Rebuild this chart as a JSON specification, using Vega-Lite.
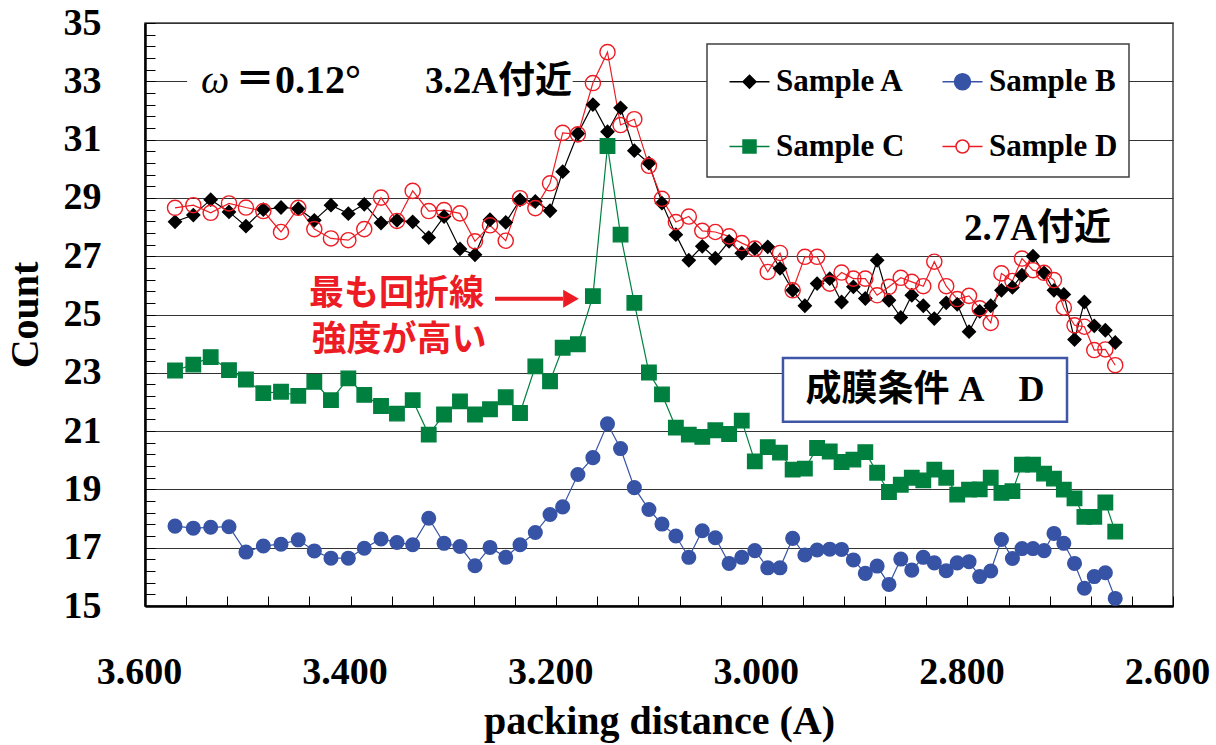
{
"$schema": "https://vega.github.io/schema/vega-lite/v6.json",
"width": 1028, "height": 583,
"autosize": "none",
"padding": {"left": 145, "top": 23, "right": 43, "bottom": 139},
"background": "white",
"config": {"view": {"stroke": "#404040", "strokeWidth": 1.5}},
"data": {"values": [
{"d":3.5708,"Sample A":28.18,"Sample B":17.74,"Sample C":23.08,"Sample D":28.66},
{"d":3.5530,"Sample A":28.41,"Sample B":17.67,"Sample C":23.28,"Sample D":28.75},
{"d":3.5361,"Sample A":28.94,"Sample B":17.70,"Sample C":23.54,"Sample D":28.49},
{"d":3.5183,"Sample A":28.52,"Sample B":17.72,"Sample C":23.09,"Sample D":28.81},
{"d":3.5018,"Sample A":28.03,"Sample B":16.85,"Sample C":22.77,"Sample D":28.67},
{"d":3.4849,"Sample A":28.60,"Sample B":17.06,"Sample C":22.30,"Sample D":28.55},
{"d":3.4677,"Sample A":28.67,"Sample B":17.12,"Sample C":22.35,"Sample D":27.83},
{"d":3.4509,"Sample A":28.63,"Sample B":17.27,"Sample C":22.21,"Sample D":28.66},
{"d":3.4353,"Sample A":28.23,"Sample B":16.89,"Sample C":22.69,"Sample D":27.93},
{"d":3.4191,"Sample A":28.75,"Sample B":16.64,"Sample C":22.06,"Sample D":27.61},
{"d":3.4022,"Sample A":28.46,"Sample B":16.64,"Sample C":22.81,"Sample D":27.55},
{"d":3.3867,"Sample A":28.78,"Sample B":16.98,"Sample C":22.24,"Sample D":27.93},
{"d":3.3704,"Sample A":28.14,"Sample B":17.30,"Sample C":21.86,"Sample D":29.01},
{"d":3.3549,"Sample A":28.23,"Sample B":17.18,"Sample C":21.60,"Sample D":28.21},
{"d":3.3396,"Sample A":28.18,"Sample B":17.10,"Sample C":22.06,"Sample D":29.24},
{"d":3.3240,"Sample A":27.64,"Sample B":18.01,"Sample C":20.88,"Sample D":28.55},
{"d":3.3091,"Sample A":28.36,"Sample B":17.15,"Sample C":21.57,"Sample D":28.58},
{"d":3.2936,"Sample A":27.25,"Sample B":17.04,"Sample C":22.02,"Sample D":28.47},
{"d":3.2790,"Sample A":27.05,"Sample B":16.38,"Sample C":21.57,"Sample D":27.51},
{"d":3.2644,"Sample A":28.25,"Sample B":17.01,"Sample C":21.75,"Sample D":28.06},
{"d":3.2491,"Sample A":28.16,"Sample B":16.67,"Sample C":22.16,"Sample D":27.53},
{"d":3.2352,"Sample A":28.93,"Sample B":17.10,"Sample C":21.62,"Sample D":28.99},
{"d":3.2203,"Sample A":28.88,"Sample B":17.52,"Sample C":23.22,"Sample D":28.65},
{"d":3.2060,"Sample A":28.56,"Sample B":18.14,"Sample C":22.71,"Sample D":29.50},
{"d":3.1937,"Sample A":29.90,"Sample B":18.40,"Sample C":23.86,"Sample D":31.23},
{"d":3.1789,"Sample A":31.21,"Sample B":19.51,"Sample C":23.98,"Sample D":31.18},
{"d":3.1643,"Sample A":32.20,"Sample B":20.09,"Sample C":25.63,"Sample D":32.94},
{"d":3.1501,"Sample A":31.27,"Sample B":21.25,"Sample C":30.78,"Sample D":34.00},
{"d":3.1374,"Sample A":32.09,"Sample B":20.40,"Sample C":27.74,"Sample D":31.50},
{"d":3.1240,"Sample A":30.62,"Sample B":19.06,"Sample C":25.40,"Sample D":31.70},
{"d":3.1098,"Sample A":30.19,"Sample B":18.31,"Sample C":23.01,"Sample D":30.10},
{"d":3.0971,"Sample A":28.82,"Sample B":17.81,"Sample C":22.26,"Sample D":28.97},
{"d":3.0836,"Sample A":27.74,"Sample B":17.40,"Sample C":21.12,"Sample D":28.17},
{"d":3.0710,"Sample A":26.86,"Sample B":16.67,"Sample C":20.88,"Sample D":28.36},
{"d":3.0579,"Sample A":27.34,"Sample B":17.58,"Sample C":20.80,"Sample D":27.87},
{"d":3.0452,"Sample A":26.93,"Sample B":17.34,"Sample C":21.03,"Sample D":27.83},
{"d":3.0318,"Sample A":27.51,"Sample B":16.46,"Sample C":20.90,"Sample D":27.68},
{"d":3.0195,"Sample A":27.10,"Sample B":16.67,"Sample C":21.36,"Sample D":27.45},
{"d":3.0068,"Sample A":27.26,"Sample B":16.90,"Sample C":19.96,"Sample D":27.26},
{"d":2.9942,"Sample A":27.32,"Sample B":16.31,"Sample C":20.45,"Sample D":26.46},
{"d":2.9823,"Sample A":26.58,"Sample B":16.31,"Sample C":20.26,"Sample D":27.11},
{"d":2.9700,"Sample A":25.83,"Sample B":17.32,"Sample C":19.68,"Sample D":25.83},
{"d":2.9581,"Sample A":25.30,"Sample B":16.75,"Sample C":19.71,"Sample D":26.98},
{"d":2.9462,"Sample A":26.06,"Sample B":16.92,"Sample C":20.42,"Sample D":26.98},
{"d":2.9339,"Sample A":26.23,"Sample B":16.95,"Sample C":20.30,"Sample D":26.06},
{"d":2.9224,"Sample A":25.43,"Sample B":16.94,"Sample C":19.94,"Sample D":26.44},
{"d":2.9109,"Sample A":25.95,"Sample B":16.58,"Sample C":20.02,"Sample D":26.23},
{"d":2.8993,"Sample A":25.55,"Sample B":16.12,"Sample C":20.28,"Sample D":26.23},
{"d":2.8878,"Sample A":26.86,"Sample B":16.37,"Sample C":19.57,"Sample D":25.66},
{"d":2.8763,"Sample A":25.49,"Sample B":15.74,"Sample C":18.91,"Sample D":25.95},
{"d":2.8648,"Sample A":24.90,"Sample B":16.61,"Sample C":19.16,"Sample D":26.26},
{"d":2.8541,"Sample A":25.66,"Sample B":16.23,"Sample C":19.40,"Sample D":26.12},
{"d":2.8429,"Sample A":25.30,"Sample B":16.67,"Sample C":19.31,"Sample D":25.97},
{"d":2.8322,"Sample A":24.86,"Sample B":16.48,"Sample C":19.68,"Sample D":26.81},
{"d":2.8206,"Sample A":25.40,"Sample B":16.21,"Sample C":19.40,"Sample D":25.97},
{"d":2.8099,"Sample A":25.35,"Sample B":16.48,"Sample C":18.82,"Sample D":25.53},
{"d":2.7984,"Sample A":24.41,"Sample B":16.52,"Sample C":18.99,"Sample D":25.64},
{"d":2.7880,"Sample A":25.11,"Sample B":16.01,"Sample C":19.00,"Sample D":25.21},
{"d":2.7773,"Sample A":25.30,"Sample B":16.20,"Sample C":19.40,"Sample D":24.71},
{"d":2.7669,"Sample A":25.83,"Sample B":17.28,"Sample C":18.88,"Sample D":26.41},
{"d":2.7562,"Sample A":25.93,"Sample B":16.63,"Sample C":18.94,"Sample D":26.15},
{"d":2.7469,"Sample A":26.35,"Sample B":16.97,"Sample C":19.85,"Sample D":26.92},
{"d":2.7362,"Sample A":27.00,"Sample B":16.97,"Sample C":19.85,"Sample D":26.52},
{"d":2.7254,"Sample A":26.43,"Sample B":16.90,"Sample C":19.54,"Sample D":26.43},
{"d":2.7158,"Sample A":25.83,"Sample B":17.49,"Sample C":19.37,"Sample D":26.18},
{"d":2.7062,"Sample A":25.69,"Sample B":17.15,"Sample C":18.99,"Sample D":25.24},
{"d":2.6958,"Sample A":24.14,"Sample B":16.46,"Sample C":18.69,"Sample D":24.63},
{"d":2.6862,"Sample A":25.43,"Sample B":15.61,"Sample C":18.06,"Sample D":24.58},
{"d":2.6766,"Sample A":24.61,"Sample B":16.01,"Sample C":18.06,"Sample D":23.78},
{"d":2.6658,"Sample A":24.46,"Sample B":16.14,"Sample C":18.55,"Sample D":23.80},
{"d":2.6562,"Sample A":24.04,"Sample B":15.26,"Sample C":17.55,"Sample D":23.26}
]},
"transform": [{"fold": ["Sample A","Sample B","Sample C","Sample D"], "as": ["series","count"]}],
"resolve": {"scale": {"shape": "independent", "fill": "independent", "stroke": "independent", "size": "independent"}},
"layer": [
{"data": {"values": [{}]}, "mark": {"type": "rect", "fill": "white"},
 "encoding": {
  "x": {"datum": 3.559, "type": "quantitative", "scale": {"domain": [2.6, 3.6], "reverse": true, "nice": false, "zero": false}},
  "x2": {"datum": 3.184},
  "y": {"datum": 33.67, "type": "quantitative", "scale": {"domain": [15, 35], "nice": false, "zero": false}},
  "y2": {"datum": 32.36}}},
{"mark": {"type": "line", "strokeWidth": 1.2},
 "encoding": {
  "x": {"field": "d", "type": "quantitative", "scale": {"domain": [2.6, 3.6], "reverse": true, "nice": false, "zero": false},
   "axis": {"values": [2.6,2.64,2.68,2.72,2.76,2.8,2.84,2.88,2.92,2.96,3,3.04,3.08,3.12,3.16,3.2,3.24,3.28,3.32,3.36,3.4,3.44,3.48,3.52,3.56,3.6],
    "tickCount": 200,
    "labelExpr": "abs(datum.value * 5 - round(datum.value * 5)) < 0.001 ? format(datum.value, '.3f') : ''",
    "grid": false, "tickSize": -10, "tickColor": "black", "tickWidth": 1,
    "domainColor": "black", "domainWidth": 2.5,
    "labelFont": "Liberation Serif", "labelFontWeight": "bold", "labelFontSize": 38, "labelColor": "black",
    "labelBaseline": "alphabetic", "labelPadding": 87, "labelOffset": -6, "labelFlush": false, "labelOverlap": false, "labelBound": false,
    "title": "packing distance (A)", "titleFont": "Liberation Serif", "titleFontWeight": "bold", "titleFontSize": 40, "titleColor": "black",
    "titleBaseline": "alphabetic", "titleY": 127}},
  "y": {"field": "count", "type": "quantitative", "scale": {"domain": [15, 35], "nice": false, "zero": false},
   "axis": {"values": [15,15.4,15.8,16.2,16.6,17,17.4,17.8,18.2,18.6,19,19.4,19.8,20.2,20.6,21,21.4,21.8,22.2,22.6,23,23.4,23.8,24.2,24.6,25,25.4,25.8,26.2,26.6,27,27.4,27.8,28.2,28.6,29,29.4,29.8,30.2,30.6,31,31.4,31.8,32.2,32.6,33,33.4,33.8,34.2,34.6,35],
    "tickCount": 200,
    "labelExpr": "datum.value % 2 == 1 ? format(datum.value, 'd') : ''",
    "grid": true, "gridColor": "#333333", "gridWidth": 1,
    "gridOpacity": {"condition": {"test": "datum.value % 2 == 1", "value": 1}, "value": 0},
    "tickSize": -10, "tickColor": "black", "tickWidth": 1,
    "domainColor": "black", "domainWidth": 2.5,
    "labelFont": "Liberation Serif", "labelFontWeight": "bold", "labelFontSize": 38, "labelColor": "black",
    "labelPadding": 54, "labelOverlap": false, "labelFlush": false, "labelBound": false,
    "title": "Count", "titleFont": "Liberation Serif", "titleFontWeight": "bold", "titleFontSize": 40, "titleColor": "black",
    "titleX": -120, "titleY": 291.5, "titleAngle": 270, "titleBaseline": "middle", "titleAlign": "center"}},
  "stroke": {"field": "series", "type": "nominal", "scale": {"domain": ["Sample A","Sample B","Sample C","Sample D"], "range": ["#000000","#3753a5","#00803f","#ed1c24"]}, "legend": null}}},
{"mark": {"type": "point", "filled": true, "opacity": 1, "strokeWidth": 1.4},
 "encoding": {
  "x": {"field": "d", "type": "quantitative", "scale": {"domain": [2.6, 3.6], "reverse": true, "nice": false, "zero": false}},
  "y": {"field": "count", "type": "quantitative", "scale": {"domain": [15, 35], "nice": false, "zero": false}},
  "shape": {"field": "series", "type": "nominal", "scale": {"domain": ["Sample A","Sample B","Sample C","Sample D"], "range": ["diamond","circle","square","circle"]}, "legend": null},
  "fill": {"field": "series", "type": "nominal", "scale": {"domain": ["Sample A","Sample B","Sample C","Sample D"], "range": ["#000000","#3753a5","#00803f","transparent"]}, "legend": null},
  "stroke": {"field": "series", "type": "nominal", "scale": {"domain": ["Sample A","Sample B","Sample C","Sample D"], "range": ["#000000","#3753a5","#00803f","#ed1c24"]}, "legend": null},
  "size": {"field": "series", "type": "ordinal", "scale": {"domain": ["Sample A","Sample B","Sample C","Sample D"], "range": [165,230,175,144]}, "legend": null}}},
{"data": {"values": [{}]}, "mark": {"type": "rect", "fill": "white", "stroke": "#3f56a6", "strokeWidth": 2.5},
 "encoding": {
  "x": {"datum": 2.9794, "type": "quantitative", "scale": {"domain": [2.6, 3.6], "reverse": true, "nice": false, "zero": false}},
  "x2": {"datum": 2.7031},
  "y": {"datum": 23.51, "type": "quantitative", "scale": {"domain": [15, 35], "nice": false, "zero": false}},
  "y2": {"datum": 21.32}}},
{"data": {"values": [{}]}, "mark": {"type": "text", "text": "成膜条件 A　D", "font": "'Liberation Serif', 'Noto Sans CJK JP'", "fontWeight": "bold", "fontSize": 36, "fill": "black", "align": "center", "baseline": "middle"},
 "encoding": {
  "x": {"datum": 2.8412, "type": "quantitative", "scale": {"domain": [2.6, 3.6], "reverse": true, "nice": false, "zero": false}},
  "y": {"datum": 22.41, "type": "quantitative", "scale": {"domain": [15, 35], "nice": false, "zero": false}}}},
{"data": {"values": [{}]}, "mark": {"type": "rect", "fill": "white", "stroke": "#404040", "strokeWidth": 1.5},
 "encoding": {
  "x": {"datum": 3.0533, "type": "quantitative", "scale": {"domain": [2.6, 3.6], "reverse": true, "nice": false, "zero": false}},
  "x2": {"datum": 2.6428},
  "y": {"datum": 34.283, "type": "quantitative", "scale": {"domain": [15, 35], "nice": false, "zero": false}},
  "y2": {"datum": 29.72}}},
{"data": {"values": []}, "mark": {"type": "point", "filled": true, "opacity": 1, "size": 400, "strokeWidth": 1.5},
 "encoding": {
  "shape": {"field": "series", "type": "nominal", "scale": {"domain": ["Sample A","Sample B","Sample C","Sample D"], "range": [
    "M-2,0H2M0,-0.65L0.65,0L0,0.65L-0.65,0Z",
    "M-2,0H2M0.8,0A0.8,0.8,0,1,1,-0.8,0A0.8,0.8,0,1,1,0.8,0Z",
    "M-2,0H2M-0.65,-0.65H0.65V0.65H-0.65Z",
    "M-2,0H-0.65M0.65,0H2M0.65,0A0.65,0.65,0,1,1,-0.65,0A0.65,0.65,0,1,1,0.65,0Z"]},
   "legend": {"orient": "none", "legendX": 589, "legendY": 43, "direction": "horizontal", "columns": 2, "title": null, "labelFont": "Liberation Serif", "labelFontWeight": "bold", "labelFontSize": 31, "labelColor": "black", "symbolSize": 400, "symbolStrokeWidth": 1.5, "labelOffset": 11, "columnPadding": 34, "rowPadding": 33, "padding": 0, "zindex": 1}},
  "fill": {"field": "series", "type": "nominal", "scale": {"domain": ["Sample A","Sample B","Sample C","Sample D"], "range": ["#000000","#3753a5","#00803f","#ffffff"]},
   "legend": {"orient": "none", "legendX": 589, "legendY": 43, "direction": "horizontal", "columns": 2, "title": null, "labelFont": "Liberation Serif", "labelFontWeight": "bold", "labelFontSize": 31, "labelColor": "black", "symbolSize": 400, "symbolStrokeWidth": 1.5, "labelOffset": 11, "columnPadding": 34, "rowPadding": 33, "padding": 0, "zindex": 1}},
  "stroke": {"field": "series", "type": "nominal", "scale": {"domain": ["Sample A","Sample B","Sample C","Sample D"], "range": ["#000000","#3753a5","#00803f","#ed1c24"]},
   "legend": {"orient": "none", "legendX": 589, "legendY": 43, "direction": "horizontal", "columns": 2, "title": null, "labelFont": "Liberation Serif", "labelFontWeight": "bold", "labelFontSize": 31, "labelColor": "black", "symbolSize": 400, "symbolStrokeWidth": 1.5, "labelOffset": 11, "columnPadding": 34, "rowPadding": 33, "padding": 0, "zindex": 1}}}},
{"data": {"values": [{}]}, "mark": {"type": "text", "text": "ω", "font": "Liberation Serif", "fontStyle": "italic", "fontSize": 40, "fill": "black", "align": "center", "baseline": "alphabetic"},
 "encoding": {
  "x": {"datum": 3.5319, "type": "quantitative", "scale": {"domain": [2.6, 3.6], "reverse": true, "nice": false, "zero": false}},
  "y": {"datum": 32.6, "type": "quantitative", "scale": {"domain": [15, 35], "nice": false, "zero": false}}}},
{"data": {"values": [{}]}, "mark": {"type": "text", "text": "＝0.12°", "font": "'Liberation Serif', 'Noto Sans CJK JP'", "fontWeight": "bold", "fontSize": 40, "fill": "black", "align": "left", "baseline": "alphabetic"},
 "encoding": {
  "x": {"datum": 3.5125, "type": "quantitative", "scale": {"domain": [2.6, 3.6], "reverse": true, "nice": false, "zero": false}},
  "y": {"datum": 32.6, "type": "quantitative", "scale": {"domain": [15, 35], "nice": false, "zero": false}}}},
{"data": {"values": [{}]}, "mark": {"type": "text", "text": "3.2A付近", "font": "'Liberation Serif', 'Noto Sans CJK JP'", "fontWeight": "bold", "fontSize": 37, "fill": "black", "align": "center", "baseline": "alphabetic"},
 "encoding": {
  "x": {"datum": 3.2561, "type": "quantitative", "scale": {"domain": [2.6, 3.6], "reverse": true, "nice": false, "zero": false}},
  "y": {"datum": 32.6, "type": "quantitative", "scale": {"domain": [15, 35], "nice": false, "zero": false}}}},
{"data": {"values": [{}]}, "mark": {"type": "text", "text": "2.7A付近", "font": "'Liberation Serif', 'Noto Sans CJK JP'", "fontWeight": "bold", "fontSize": 37, "fill": "black", "align": "center", "baseline": "alphabetic"},
 "encoding": {
  "x": {"datum": 2.7318, "type": "quantitative", "scale": {"domain": [2.6, 3.6], "reverse": true, "nice": false, "zero": false}},
  "y": {"datum": 27.56, "type": "quantitative", "scale": {"domain": [15, 35], "nice": false, "zero": false}}}},
{"data": {"values": [{}]}, "mark": {"type": "text", "text": "最も回折線", "font": "Noto Sans CJK JP", "fontWeight": "bold", "fontSize": 35, "fill": "#ed1c24", "align": "center", "baseline": "middle"},
 "encoding": {
  "x": {"datum": 3.3554, "type": "quantitative", "scale": {"domain": [2.6, 3.6], "reverse": true, "nice": false, "zero": false}},
  "y": {"datum": 25.72, "type": "quantitative", "scale": {"domain": [15, 35], "nice": false, "zero": false}}}},
{"data": {"values": [{}]}, "mark": {"type": "text", "text": "強度が高い", "font": "Noto Sans CJK JP", "fontWeight": "bold", "fontSize": 35, "fill": "#ed1c24", "align": "center", "baseline": "middle"},
 "encoding": {
  "x": {"datum": 3.3529, "type": "quantitative", "scale": {"domain": [2.6, 3.6], "reverse": true, "nice": false, "zero": false}},
  "y": {"datum": 24.12, "type": "quantitative", "scale": {"domain": [15, 35], "nice": false, "zero": false}}}},
{"data": {"values": [{}]}, "mark": {"type": "rule", "stroke": "#ed1c24", "strokeWidth": 4},
 "encoding": {
  "x": {"datum": 3.2595, "type": "quantitative", "scale": {"domain": [2.6, 3.6], "reverse": true, "nice": false, "zero": false}},
  "x2": {"datum": 3.1934},
  "y": {"datum": 25.54, "type": "quantitative", "scale": {"domain": [15, 35], "nice": false, "zero": false}}}},
{"data": {"values": [{}]}, "mark": {"type": "point", "shape": "triangle-right", "filled": true, "fill": "#ed1c24", "strokeWidth": 0, "opacity": 1, "size": 324},
 "encoding": {
  "x": {"datum": 3.1856, "type": "quantitative", "scale": {"domain": [2.6, 3.6], "reverse": true, "nice": false, "zero": false}},
  "y": {"datum": 25.54, "type": "quantitative", "scale": {"domain": [15, 35], "nice": false, "zero": false}}}}
]
}
